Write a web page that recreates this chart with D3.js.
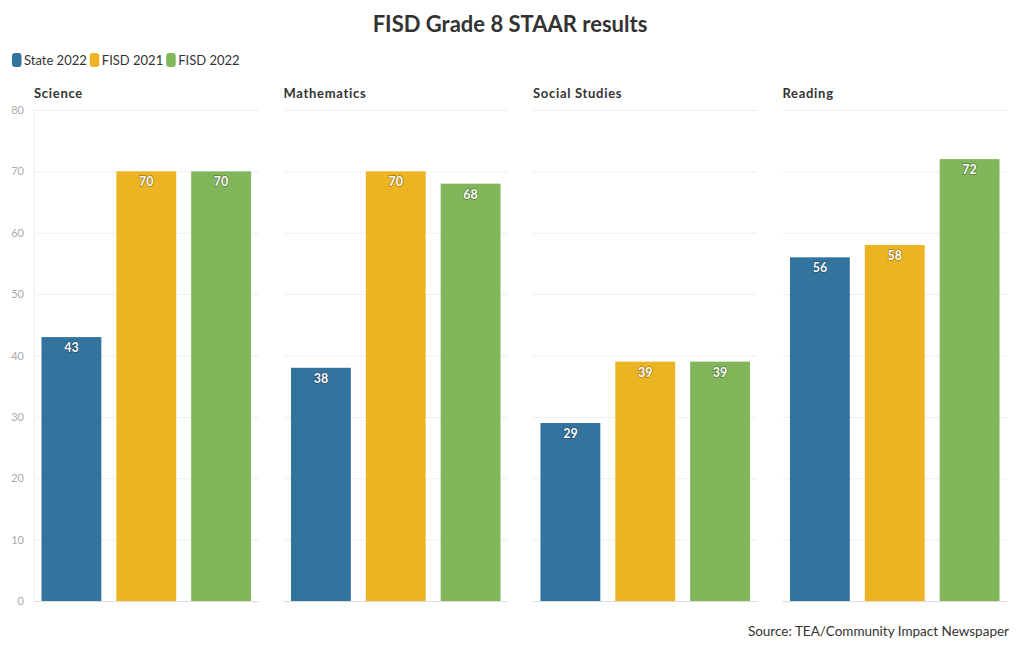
<!DOCTYPE html>
<html><head><meta charset="utf-8">
<script src="https://cdn.jsdelivr.net/npm/d3@7"></script>
<style>
body{margin:0;background:#fff;font-family:"Source Sans Pro","Lato","Noto Sans",sans-serif;}
</style></head>
<body><svg id="c" width="1020" height="650"></svg>
<script>
const subjects = ["Science","Mathematics","Social Studies","Reading"];
const seriesNames = ["State 2022","FISD 2021","FISD 2022"];
const state2022 = [43,38,29,56];
const fisd2021 = [70,70,39,58];
const fisd2022 = [70,68,39,72];
const yTicks = [0,10,20,30,40,50,60,70,80];
const colors = ["#33749f","#ecb422","#82b65a"];
const values = [state2022,fisd2021,fisd2022];

const svg = d3.select("#c");
const font = "Lato, 'Noto Sans', sans-serif";
svg.append("text").attr("x",510).attr("y",32).attr("text-anchor","middle")
  .attr("font-family",font).attr("font-weight","bold").attr("font-size",22).attr("fill","#333")
  .text("FISD Grade 8 STAAR results");

// legend
let lx = 12;
seriesNames.forEach((n,i)=>{
  const g = svg.append("g");
  g.append("rect").attr("x",lx).attr("y",53).attr("width",9.5).attr("height",14).attr("rx",3).attr("fill",colors[i]);
  const t = g.append("text").attr("x",lx+12).attr("y",65).attr("font-family",font).attr("font-size",13).attr("fill","#333").text(n);
  lx += 12 + t.node().getComputedTextLength() + 3;
});

const y = d3.scaleLinear().domain([0,80]).range([601,110]);
const panelX = d3.scaleBand().domain(subjects).range([34,1007]).paddingInner(0.1);
const pw = panelX.bandwidth();
const x = d3.scaleBand().domain(seriesNames).range([0,pw]).paddingInner(0.2).paddingOuter(0.1);

subjects.forEach((s,si)=>{
  const g = svg.append("g").attr("transform",`translate(${panelX(s)},0)`);
  g.append("text").attr("x",0).attr("y",98).attr("font-family",font).attr("font-weight","bold")
    .attr("font-size",13).attr("fill","#333").attr("letter-spacing",0.7).text(s);
  g.selectAll("line.grid").data(yTicks).join("line").attr("class","grid")
    .attr("x1",0).attr("x2",pw).attr("y1",d=>y(d)+0.5).attr("y2",d=>y(d)+0.5)
    .attr("stroke",d=>d===0?"#ddd":"#eee").attr("stroke-width",1);
  if(si===0){
    g.append("line").attr("x1",0.5).attr("x2",0.5).attr("y1",y(80)).attr("y2",y(0)).attr("stroke","#eee");
    g.selectAll("text.tick").data(yTicks).join("text").attr("class","tick")
      .attr("x",-10).attr("y",d=>y(d)+4).attr("text-anchor","end")
      .attr("font-family",font).attr("font-size",11).attr("fill","#aaa").text(d=>d);
  }
  seriesNames.forEach((n,i)=>{
    const v = values[i][si];
    g.append("rect").attr("x",x(n)).attr("y",y(v)).attr("width",x.bandwidth()).attr("height",y(0)-y(v))
      .attr("fill",colors[i]);
    g.append("text").attr("x",x(n)+x.bandwidth()/2).attr("y",y(v)+15).attr("text-anchor","middle")
      .attr("font-family",font).attr("font-weight","bold").attr("font-size",12.5).attr("fill","#fff")
      .style("paint-order","stroke").attr("stroke","rgba(0,0,0,0.35)").attr("stroke-width",1.5)
      .text(v);
  });
});

svg.append("text").attr("x",1009).attr("y",636).attr("text-anchor","end")
  .attr("font-family",font).attr("font-size",13.5).attr("fill","#333")
  .text("Source: TEA/Community Impact Newspaper");
</script></body></html>
